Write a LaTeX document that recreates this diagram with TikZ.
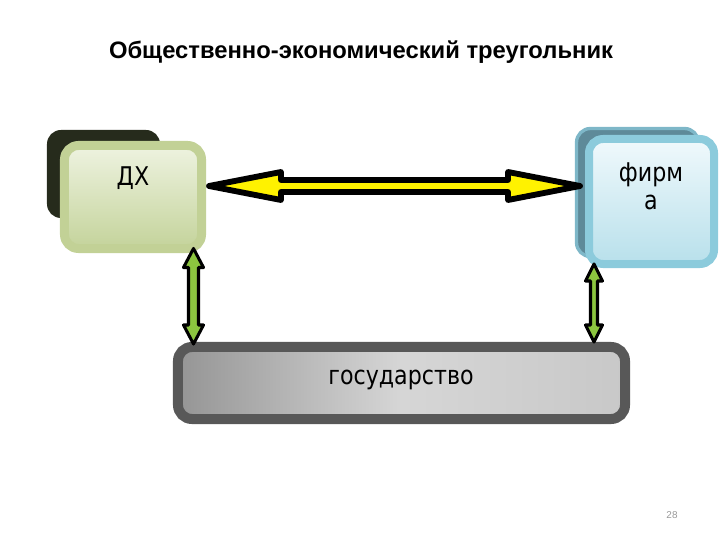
\documentclass[tikz,border=0pt]{standalone}
\usepackage{fontspec}
\setmainfont{Liberation Sans}
\newfontfamily\boxfont{DejaVu Sans}
\usetikzlibrary{calc, positioning}
\definecolor{hhBack}{HTML}{262B1C}
\definecolor{hhRim}{HTML}{C2D196}
\definecolor{hhLight}{HTML}{EEF3E0}
\definecolor{hhDark}{HTML}{C4D39B}
\definecolor{firmBack}{HTML}{5E8A99}
\definecolor{firmRim}{HTML}{8CCBDC}
\definecolor{firmLight}{HTML}{F0F9FC}
\definecolor{firmDark}{HTML}{B8E0EB}
\definecolor{stateRim}{HTML}{585858}
\definecolor{stateLeft}{HTML}{959595}
\definecolor{stateMid}{HTML}{D6D6D6}
\definecolor{stateRight}{HTML}{C8C8C8}
\definecolor{linkGreen}{HTML}{8CC63F}
\tikzstyle{back} = [rectangle, rounded corners=4.2mm, inner sep=0pt]
\tikzstyle{block} = [rectangle, rounded corners=4.2mm, inner sep=0pt]
\tikzstyle{boxtext} = [font=\boxfont\fontsize{22}{24}\selectfont, align=center, inner sep=0pt, anchor=base, xscale=0.86, transform shape]
\tikzstyle{bigarrow} = [draw=black, fill=yellow, line width=5pt, line join=round]
\tikzstyle{smallarrow} = [draw=black, fill=linkGreen, line width=2.6pt, line join=round]

\begin{document}
\begin{tikzpicture}[x=0.03cm, y=-0.03cm]
	\useasboundingbox (0,0) rectangle (720,540);
	\node (Title) at (361,52) {\fontsize{20.3}{23}\selectfont\bfseries Общественно-экономический треугольник};
	% households
	\node (HouseholdBack) [back, fill=hhBack, minimum width=113*0.3mm, minimum height=88*0.3mm] at (103.5,174) {};
	\node (Household) [block, draw=hhRim, line width=2.7mm, top color=hhLight, bottom color=hhDark, minimum width=137*0.3mm, minimum height=103*0.3mm] at (133,197) {};
	\node (HouseholdText) [boxtext] at (133,186) {ДХ};
	% firm
	\node (FirmBack) [back, fill=firmBack, draw=firmRim!70!firmBack, line width=1mm, minimum width=122*0.3mm, minimum height=128*0.3mm] at (637.5,192.5) {};
	\node (Firm) [block, draw=firmRim, line width=2.4mm, top color=firmLight, bottom color=firmDark, minimum width=125*0.3mm, minimum height=125*0.3mm] at (651.5,201.5) {};
	\node (FirmText1) [boxtext] at (651,182) {фирм};
	\node (FirmText2) [boxtext] at (651,210) {а};
	% state
	\node (State) [block, draw=stateRim, line width=3mm, left color=stateLeft, right color=stateRight, middle color=stateMid, minimum width=447*0.3mm, minimum height=72*0.3mm] at (401.5,383) {};
	\node (StateText) [boxtext] at (401,385) {государство};
	% arrows
	\coordinate (YL) at ($(Household.east)+(3,-11)$);
	\coordinate (YR) at ($(Firm.west |- YL)+(-5,0)$);
	\draw [bigarrow] (YL) -- ($(YL)+(72,-14)$) -- ($(YL)+(72,-6)$) -- ($(YR)+(-72,-6)$) -- ($(YR)+(-72,-14)$) -- (YR)
		-- ($(YR)+(-72,14)$) -- ($(YR)+(-72,6)$) -- ($(YL)+(72,6)$) -- ($(YL)+(72,14)$) -- cycle;
	\coordinate (GLT) at ($(Household.south)+(60.5,-4.5)$);
	\coordinate (GLB) at ($(GLT |- State.north)+(0,2)$);
	\draw [smallarrow] (GLT) -- ($(GLT)+(10,19)$) -- ($(GLT)+(5,19)$) -- ($(GLB)+(5,-19)$) -- ($(GLB)+(10,-19)$) -- (GLB)
		-- ($(GLB)+(-10,-19)$) -- ($(GLB)+(-5,-19)$) -- ($(GLT)+(-5,19)$) -- ($(GLT)+(-10,19)$) -- cycle;
	\coordinate (GRT) at ($(Firm.south)+(-57.5,-4)$);
	\coordinate (GRB) at ($(GRT |- State.north)+(0,0)$);
	\draw [smallarrow] (GRT) -- ($(GRT)+(8.5,17)$) -- ($(GRT)+(3.5,17)$) -- ($(GRB)+(3.5,-17)$) -- ($(GRB)+(8.5,-17)$) -- (GRB)
		-- ($(GRB)+(-8.5,-17)$) -- ($(GRB)+(-3.5,-17)$) -- ($(GRT)+(-3.5,17)$) -- ($(GRT)+(-8.5,17)$) -- cycle;
	\node (PageNo) [text=gray!80] at (672,515) {\fontsize{8.5}{10}\selectfont 28};
\end{tikzpicture}
\end{document}
